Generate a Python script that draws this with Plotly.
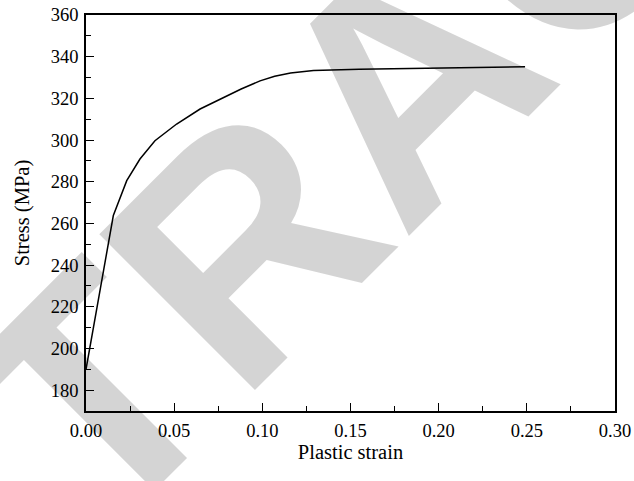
import plotly.graph_objects as go

# Data
strain = [0.000, 0.0155, 0.0231, 0.0306, 0.0391, 0.0514, 0.0647, 0.076, 0.088, 0.0987, 0.107, 0.116, 0.129, 0.155, 0.200, 0.249]
stress = [190.0, 263.8, 280.5, 290.9, 299.7, 307.7, 314.9, 319.5, 324.5, 328.4, 330.6, 332.2, 333.4, 334.0, 334.6, 335.2]

x_ticks = [0.00, 0.05, 0.10, 0.15, 0.20, 0.25, 0.30]
x_tick_labels = ["0.00", "0.05", "0.10", "0.15", "0.20", "0.25", "0.30"]
y_ticks = [180, 200, 220, 240, 260, 280, 300, 320, 340, 360]
y_tick_labels = [str(v) for v in y_ticks]

FONT = "Liberation Serif"

fig = go.Figure()
fig.add_trace(go.Scatter(
    x=strain, y=stress, mode="lines",
    line=dict(color="black", width=1.5),
    showlegend=False, hoverinfo="skip",
))

axis_common = dict(
    showline=True, linecolor="black", linewidth=1.5, mirror=True,
    ticks="inside", ticklen=8.5, tickwidth=1.3, tickcolor="black",
    showgrid=False, zeroline=False, automargin=False,
    tickfont=dict(family=FONT, size=18.5, color="black"),
)

fig.update_xaxes(
    range=[0, 0.3], tickmode="array", tickvals=x_ticks, ticktext=x_tick_labels,
    minor=dict(ticks="inside", ticklen=5.5, tickwidth=1.3, tickcolor="black", dtick=0.025),
    title=dict(text="Plastic strain", font=dict(family=FONT, size=20.5, color="black"), standoff=5),
    ticklabelstandoff=2,
    **axis_common,
)
fig.update_yaxes(
    range=[170, 360], tickmode="array", tickvals=y_ticks, ticktext=y_tick_labels,
    minor=dict(ticks="inside", ticklen=5.5, tickwidth=1.3, tickcolor="black", dtick=10, tick0=170),
    title=dict(text="Stress (MPa)", font=dict(family=FONT, size=20.5, color="black"), standoff=16),
    ticklabelstandoff=2,
    **axis_common,
)

# Watermark
fig.add_annotation(
    text="RETRACTED", xref="paper", yref="paper",
    x=(406 - 86) / 529, y=(411 - 82) / 396, xanchor="center", yanchor="middle",
    textangle=-45, showarrow=False,
    font=dict(family="Liberation Sans", size=320, color="rgba(0,0,0,0.17)", weight="bold"),
)

fig.update_layout(
    width=634, height=481,
    margin=dict(l=86, r=19, t=15, b=70),
    paper_bgcolor="white", plot_bgcolor="white",
)

fig.write_html("out.html")
